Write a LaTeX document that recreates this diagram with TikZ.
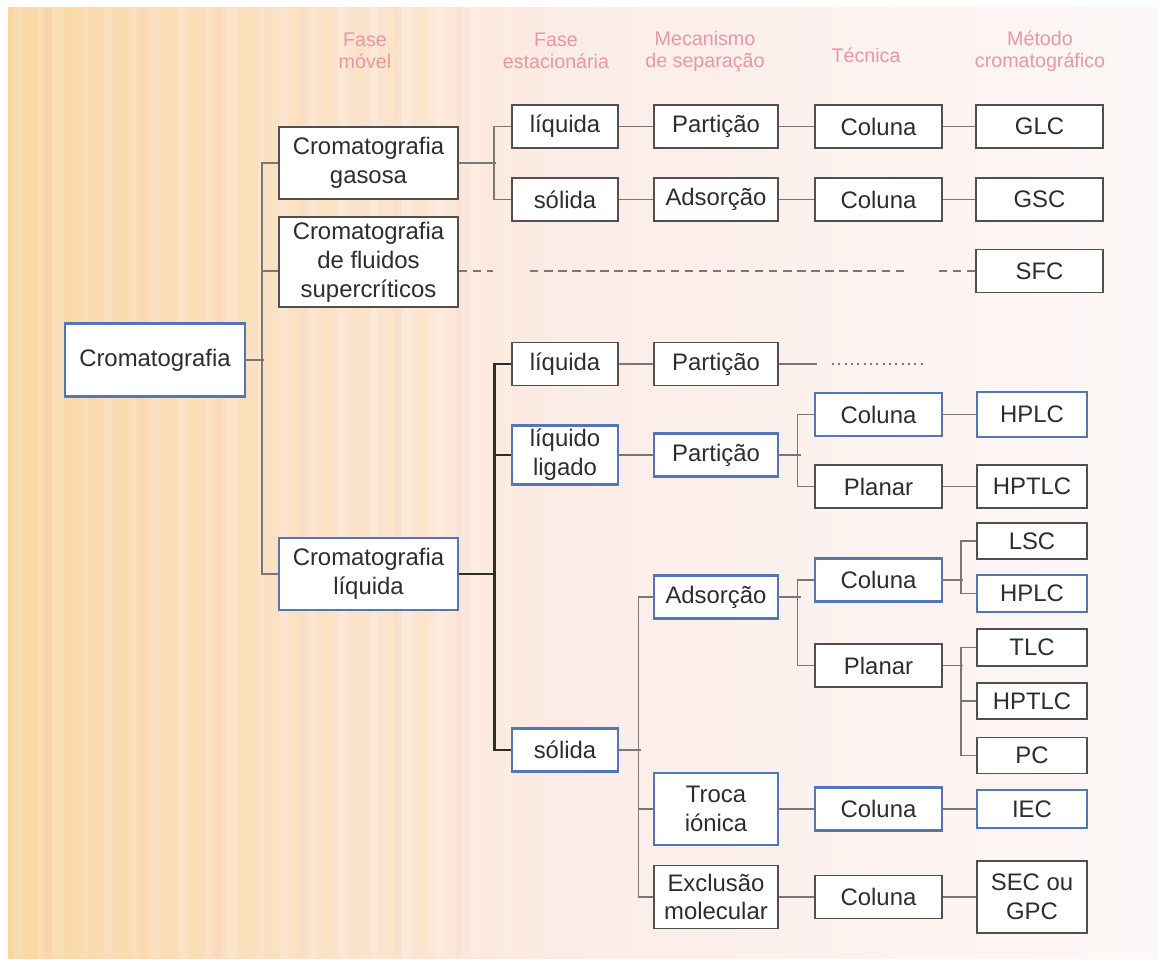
\documentclass[tikz,border=0pt]{standalone}
\usepackage{fontspec}
\setmainfont{Liberation Sans}
\usepackage{tikz}
\usetikzlibrary{calc}

\definecolor{boxgray}{RGB}{80,80,80}
\definecolor{boxblue}{RGB}{82,118,182}
\definecolor{linegray}{RGB}{120,120,120}
\definecolor{trunkgray}{RGB}{45,45,45}
\definecolor{headpink}{RGB}{236,150,162}
\definecolor{txtgray}{RGB}{45,45,45}
\definecolor{bgorange}{RGB}{250,214,164}
\definecolor{bgpink}{RGB}{252,236,230}
\definecolor{bgwhite}{RGB}{253,248,248}
\definecolor{bgyellow}{RGB}{252,226,160}

\begin{document}
\begin{tikzpicture}[x=0.025cm,y=-0.025cm,
    box/.style={
      draw=boxgray,
      line width=1.2pt,
      fill=white,
      text=txtgray,
      inner sep=0pt,
      align=center,
      font=\fontsize{17}{20.5}\selectfont,
      minimum height=1.075cm
    },
    bluebox/.style={box, draw=boxblue, line width=2pt},
    head/.style={text=headpink, align=center, font=\fontsize{14}{15.6}\selectfont},
    conn/.style={draw=linegray, line width=1.1pt},
    trunk/.style={draw=trunkgray, line width=2pt},
    cA/.style={minimum width=4.475cm},
    cB/.style={minimum width=2.65cm},
    cC/.style={minimum width=3.1cm},
    cD/.style={minimum width=3.175cm},
    cE/.style={minimum width=3.175cm},
    cF/.style={minimum width=2.75cm}]
    \useasboundingbox (0,0) rectangle (1159,963);
    % background
    \fill[white] (0,0) rectangle (1159,963);
    \shade[left color=bgorange, right color=bgpink] (8,7) rectangle (560,958);
    \shade[left color=bgpink, right color=bgwhite] (560,7) rectangle (1159,958);
    \foreach \sx/\sw in {14/9,37/6,52/12,81/7,103/10,131/6,150/11,178/8,205/7,226/12,258/6,279/9,309/8,338/10,371/7,402/9,436/8,470/10,505/7}
      \fill[white,opacity=0.16] (\sx,7) rectangle ++(\sw,951);
    \foreach \sx/\sw in {26/8,66/9,92/6,118/10,163/8,192/6,240/9,292/7,322/8,356/6,388/9,420/7}
      \fill[bgyellow,opacity=0.22] (\sx,7) rectangle ++(\sw,951);
    \foreach \sx in {45,140,215,300,395,455}
      \fill[pink,opacity=0.16] (\sx,7) rectangle ++(6,951);

    % headers
    \node[head] at (365,51) (hmov) {Fase\\móvel};
    \node[head] at (556,51) (hest) {Fase\\estacionária};
    \node[head] at (705,51) (hmec) {Mecanismo\\de separação};
    \node[head] at (866,55) (htec) {Técnica};
    \node[head] at (1040,51) (hmet) {Método\\cromatográfico};

    % first column
    \node[bluebox,minimum width=4.5cm,minimum height=1.825cm] at (155,360) (root) {Cromatografia};
    \node[box,cA,minimum height=1.8cm] at (368.5,163) (cg) {Cromatografia\\gasosa};
    \node[box,cA,minimum height=2.25cm] at (368.5,262) (csf) {Cromatografia\\de fluidos\\supercríticos};
    \node[bluebox,cA,minimum height=1.8cm] at (368.5,574) (cl) {Cromatografia\\líquida};

    % gas
    \node[box,cB] at (565,126.5) (gl) {líquida};
    \node[box,cC] at (716,126.5) (gpa) {Partição};
    \node[box,cD] at (878.5,126.5) (gco) {Coluna};
    \node[box,cE] at (1039.5,126.5) (glc) {GLC};
    \node[box,cB] at (565,199.5) (gs) {sólida};
    \node[box,cC] at (716,199.5) (gad) {Adsorção};
    \node[box,cD] at (878.5,199.5) (gcob) {Coluna};
    \node[box,cE] at (1039.5,199.5) (gsc) {GSC};
    \node[box,cE] at (1039.5,271) (sfc) {SFC};

    % liquid
    \node[box,cB] at (565,364) (ll) {líquida};
    \node[box,cC] at (716,364) (lpa) {Partição};
    \node[bluebox,cB,minimum height=1.475cm] at (565,455) (llg) {líquido\\ligado};
    \node[bluebox,cC] at (716,455) (lpab) {Partição};
    \node[bluebox,cD] at (878.5,414.5) (lco) {Coluna};
    \node[bluebox,cF,minimum height=1.125cm] at (1032,414.5) (lhp) {HPLC};
    \node[box,cD] at (878.5,486.5) (lpl) {Planar};
    \node[box,cF] at (1032,486.5) (lhpt) {HPTLC};
    \node[bluebox,cB] at (565,750) (ls) {sólida};
    \node[bluebox,cC] at (716,597) (lad) {Adsorção};
    \node[bluebox,cD] at (878.5,580) (lcob) {Coluna};
    \node[box,cF,minimum height=0.9cm] at (1032,541) (lsc) {LSC};
    \node[bluebox,cF,minimum height=0.925cm] at (1032,593.5) (lhpb) {HPLC};
    \node[box,cD] at (878.5,665.5) (lplb) {Planar};
    \node[box,cF,minimum height=0.925cm] at (1032,647.5) (ltlc) {TLC};
    \node[box,cF,minimum height=0.9cm] at (1032,701) (lhptb) {HPTLC};
    \node[box,cF,minimum height=0.9cm] at (1032,755.5) (lpc) {PC};
    \node[bluebox,cC,minimum height=1.8cm] at (716,809) (ltr) {Troca\\iónica};
    \node[bluebox,cD] at (878.5,809) (lcoc) {Coluna};
    \node[bluebox,cF,minimum height=0.95cm] at (1032,809) (liec) {IEC};
    \node[box,cC,minimum height=1.575cm] at (716,897) (lex) {Exclusão\\molecular};
    \node[box,cD] at (878.5,897) (lcod) {Coluna};
    \node[box,cF,minimum height=1.8cm] at (1032,897) (lsec) {SEC ou\\GPC};

    % root connectors
    \draw[conn] (root.east) -- ++(18,0);
    \draw[conn] (cg.west) -- ++(-16,0) |- (cl.west);
    \draw[conn] (csf.west |- sfc) -- ++(-16,0);
    \draw[conn,dash pattern=on 6pt off 4pt] (csf.east |- sfc) -- ++(34,0);
    \draw[conn,dash pattern=on 6pt off 4pt] (530,271) -- (905,271);
    \draw[conn,dash pattern=on 6pt off 4pt] (sfc.west) -- ++(-36,0);

    % gas connectors
    \draw[conn] (cg.east) -- ++(37,0);
    \draw[conn] (gl.west) -- ++(-17,0) |- (gs.west);
    \path[conn]
        (gl) edge (gpa)
        (gpa) edge (gco)
        (gco) edge (glc)
        (gs) edge (gad)
        (gad) edge (gcob)
        (gcob) edge (gsc)
        ;

    % liquid connectors
    \draw[trunk] (cl.east) -- ++(37,0);
    \draw[trunk] (ll.west) -- ++(-17,0) |- (ls.west);
    \draw[trunk] (llg.west) -- ++(-17,0);
    \path[conn]
        (ll) edge (lpa)
        (llg) edge (lpab)
        (lco) edge (lhp)
        (lpl) edge (lhpt)
        (ltr) edge (lcoc)
        (lcoc) edge (liec)
        (lex) edge (lcod)
        (lcod) edge (lsec)
        ;
    \draw[conn] (lpa.east) -- ++(38,0);
    \draw[conn,dash pattern=on 1.5pt off 3pt] (832,364) -- (925,364);
    \draw[conn] (lpab.east) -- ++(22,0);
    \draw[conn] (lco.west) -- ++(-16,0) |- (lpl.west);
    \draw[conn] (ls.east) -- ++(22,0);
    \draw[conn] (lad.west) -- ++(-14,0) |- (lex.west);
    \draw[conn] (ltr.west) -- ++(-14,0);
    \draw[conn] (lad.east) -- ++(22,0);
    \draw[conn] (lcob.west) -- ++(-16,0) |- (lplb.west);
    \draw[conn] (lcob.east) -- ++(20,0);
    \draw[conn] (lsc.west) -- ++(-15,0) |- (lhpb.west);
    \draw[conn] (lplb.east) -- ++(20,0);
    \draw[conn] (ltlc.west) -- ++(-15,0) |- (lpc.west);
    \draw[conn] (lhptb.west) -- ++(-15,0);
\end{tikzpicture}
\end{document}
